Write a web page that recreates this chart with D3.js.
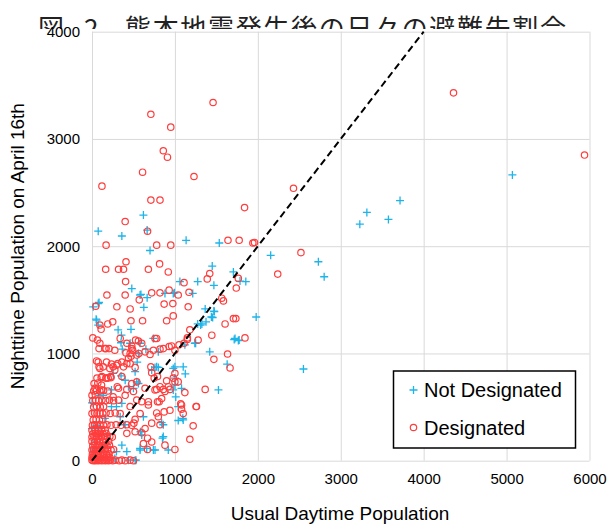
<!DOCTYPE html>
<html><head><meta charset="utf-8">
<script src="https://cdn.jsdelivr.net/npm/d3@7"></script>
<style>body{margin:0;background:#fff}svg{display:block}</style>
</head><body>
<svg id="chart" width="609" height="527"></svg>
<script>
const titleParts = ["図", "2", "熊本地震発生後の日々の避難先割合"];
const xTitle = "Usual Daytime Population";
const yTitle = "Nighttime Population on April 16th";
const seriesNames = ["Not Designated", "Designated"];
const xTicks = [0, 1000, 2000, 3000, 4000, 5000, 6000];
const yTicks = [0, 1000, 2000, 3000, 4000];
const refLine = [[0, 0], [4000, 4000]];

const notDesignated = [
[5070,2665],[3715,2425],[3315,2315],[3575,2250],[3230,2205],[2155,1915],[2730,1855],[2800,1715],[1980,1340],[2550,855],
[620,2290],[75,2140],[360,2095],[665,2150],[700,1960],[1135,2055],[1535,2030],[1450,1815],[1705,1760],[1785,1675],[1855,1670],[1060,1670],[1275,1670],[480,1605],[1470,1635],[995,1565],[590,1550],[665,1520],[1215,1560],[85,1475],[15,1435],[625,1430],[1365,1415],[1470,1395],[1455,1335],[50,1320],[315,1220],[470,1225],[1275,1275],[1325,1275],[1375,1295],[1725,1140],[1765,1120],[350,1100],[365,1040],[740,1140],[650,1040],[800,1015],[1120,1080],[1240,1095],[1420,1015],[1630,900],
[580,1545],[880,1560],[980,1560],[75,1465],[55,1310],[75,1265],[355,1170],[460,1095],[580,1095],[1310,1265],[1440,1340],[1475,1390],[1715,1130],[1775,1125],[1250,1095],
[350,790],[255,815],[545,920],[760,870],[800,870],[1000,875],[1100,875],[1125,810],[1000,705],[1010,595],[500,675],[540,735],[235,660],[0,540],[840,355],[1040,375],[1100,380],[920,100],[760,100],[580,100],[850,210],[585,270],[530,5],
[1525,660],[1080,675],[1095,395],
[95,610],[295,505],[360,535],[340,410],[400,335],[420,85],[295,85],[440,5],[520,5],[580,115],[660,115],[740,100],[600,240],[620,410],[860,335],[860,225],[980,660],[1040,505],[980,860],[1000,770],[780,875],[720,845],[520,830],[560,720],[440,690],[400,750],[560,1000],[135,610],[155,395],[235,505],[0,300],[75,300],[35,175],[155,145],[275,20],[360,145],[20,100],[110,30],[60,330],[190,240]
];

const designated = [
[4360,3430],[5940,2850],[2430,2540],[2520,1940],[2240,1740],[1940,2030],[1960,2035],
[710,3230],[1460,3340],[950,3110],[860,2890],[910,2830],[610,2690],[120,2560],[1230,2650],[710,2430],[820,2430],[1840,2360],[400,2230],[670,2140],
[170,2010],[780,2010],[950,2010],[1640,2055],[1775,2055],
[410,1855],[320,1785],[380,1785],[165,1785],[815,1835],[680,1785],[920,1760],[1420,1745],[1390,1695],[1765,1700],[1110,1660],[405,1670],
[180,1545],[400,1545],[720,1565],[820,1565],[930,1590],[570,1500],[1040,1545],[1565,1515],[1585,1490],[1740,1610],[1170,1570],
[45,1440],[870,1460],[975,1465],[300,1435],[460,1415],[1160,1435],[1705,1325],[1735,1325],[1605,1275],
[110,1225],[190,1275],[250,1295],[95,1265],[470,1305],[610,1305],[900,1305],[980,1350],[1180,1220],[1280,1125],[1445,1170],[1845,1145],[1150,1145],
[10,1145],[65,1125],[85,1045],[170,1045],[205,1045],[95,1095],[340,1140],[420,1095],[480,1070],[525,1125],[560,1115],[600,1095],[760,1140],[780,1140],[700,990],[820,1040],[930,1065],[960,1070],[1000,1030],[1050,1080],[1150,1130],[1110,1095],[1470,945],[1635,995],[1665,865],
[155,1045],[275,1030],[480,1045],[460,1000],[640,1015],[740,1030],[860,1045],
[55,930],[85,875],[135,875],[175,920],[235,900],[255,875],[310,905],[360,920],[380,875],[420,905],[440,955],[120,785],[170,770],[225,785],[275,845],[520,870],[540,985],[470,975],[410,1005],[490,1030],[565,1000],[710,875],[720,820],[750,770],[790,785],[1000,815],[900,745],[820,690],[940,665],[1000,735],[1120,635],[1365,665],[860,665],[780,665],[480,720],[420,665],[305,690],[115,705],
[75,920],[95,860],[215,860],[295,890],[460,905],[360,785],[195,770],[35,675],[115,660],[255,595],[400,610],[500,645],[540,565],[460,505],[580,440],[680,520],[720,350],[640,300],[520,270],[420,255],[620,160],[720,175],[880,145],[880,645],[980,770],[1040,735],[920,690],[800,410],[840,580],[940,470],[760,660],[640,675],[540,735],[320,675],
[680,550],[600,550],[790,550],[810,550],[1070,530],[1080,480],[1100,440],[1260,505],[780,445],[870,455],[1220,325],[1180,200],[1000,105],[670,105],[670,210],[820,335],[600,260],[505,350],[520,385],[1255,505],[1080,520],
[0,5],[15,0],[30,5],[45,0],[60,5],[80,0],[100,5],[120,0],[140,5],[160,0],[180,5],[200,0],[220,5],[250,0],[280,5],[330,0],[360,5],[400,0],[460,5],[500,0],
[0,30],[20,35],[40,30],[70,35],[95,30],[130,35],[160,30],[190,35],[215,30],
[5,60],[25,65],[50,60],[75,65],[105,60],[140,65],[175,60],[205,65],
[0,100],[20,105],[45,100],[70,105],[100,100],[130,105],[160,100],[190,105],[230,100],[260,105],
[10,140],[35,145],[60,140],[90,145],[120,140],[150,145],[180,140],[210,145],
[0,180],[30,175],[65,180],[95,175],[130,180],[165,175],[200,180],
[0,220],[25,225],[55,220],[85,225],[115,220],[150,225],[185,220],[215,225],[245,220],
[10,250],[40,255],[70,250],[100,255],[135,250],[170,255],
[0,285],[35,290],[75,285],[115,290],[160,285],
[5,330],[30,335],[60,330],[95,335],[140,330],[180,335],[230,330],[290,335],[350,330],[420,335],[480,330],
[15,380],[50,385],[90,380],[130,385],
[0,440],[30,445],[60,440],[95,445],[130,440],[170,445],[220,440],[280,445],[340,440],
[20,500],[55,505],[100,500],[140,505],
[10,560],[45,565],[80,560],[120,565],[165,560],[210,565],[260,560],[320,565],
[0,610],[40,615],
[20,650],[55,655],[95,650],[140,655],[190,650],
[25,720],[70,725],
[60,770],[110,775],[170,770],[230,775]
];

const svg = d3.select("#chart");
const x = d3.scaleLinear().domain([0, 6000]).range([92, 589.5]);
const y = d3.scaleLinear().domain([0, 4000]).range([460.7, 31.7]);
const font = "'Liberation Sans', Arial, sans-serif";
const gridColor = "#d9d9d9";

// Title (clipped at top of plot)
svg.append("clipPath").attr("id", "tclip").append("rect")
  .attr("x", 0).attr("y", 0).attr("width", 609).attr("height", 29);
const tg = svg.append("g").attr("clip-path", "url(#tclip)")
  .attr("font-family", "'Noto Sans CJK JP', sans-serif").attr("font-size", 26).attr("fill", "#222");
tg.append("text").attr("x", 38).attr("y", 38).text(titleParts[0]);
tg.append("text").attr("x", 84).attr("y", 38).text(titleParts[1]);
tg.append("text").attr("x", 125).attr("y", 38).attr("textLength", 441).attr("lengthAdjust", "spacing").text(titleParts[2]);

// Grid
const gx = svg.append("g").attr("transform", `translate(0,${y(0)})`)
  .call(d3.axisBottom(x).tickValues(xTicks).tickSize(-(y(0) - y(4000))).tickFormat(d => d).tickPadding(10));
gx.select(".domain").remove();
gx.selectAll(".tick line").attr("stroke", gridColor).attr("stroke-width", 1);
gx.selectAll(".tick text").attr("font-family", font).attr("font-size", 15).attr("fill", "#000").attr("dy", "0.9em");

const gy = svg.append("g").attr("transform", `translate(${x(0)},0)`)
  .call(d3.axisLeft(y).tickValues(yTicks).tickSize(-(x(6000) - x(0))).tickFormat(d => d).tickPadding(12));
gy.select(".domain").remove();
gy.selectAll(".tick line").attr("stroke", gridColor).attr("stroke-width", 1);
gy.selectAll(".tick text").attr("font-family", font).attr("font-size", 15).attr("fill", "#000");

// Axis titles
svg.append("text").attr("x", 340).attr("y", 520).attr("text-anchor", "middle")
  .attr("font-family", font).attr("font-size", 19).text(xTitle);
svg.append("text").attr("transform", `translate(24,${(y(0) + y(4000)) / 2}) rotate(-90)`)
  .attr("text-anchor", "middle").attr("font-family", font).attr("font-size", 19).text(yTitle);

const blue = "#1eb4e8", red = "#ff3d3d";
const plus = (g, cx, cy, s) => g.append("path")
  .attr("d", `M${cx - s},${cy}H${cx + s}M${cx},${cy - s}V${cy + s}`)
  .attr("stroke", blue).attr("stroke-width", 1.3).attr("fill", "none");

// Not designated
svg.append("g").selectAll("path").data(notDesignated).join("path")
  .attr("d", d => `M${x(d[0]) - 4},${y(d[1])}H${x(d[0]) + 4}M${x(d[0])},${y(d[1]) - 4}V${y(d[1]) + 4}`)
  .attr("stroke", blue).attr("stroke-width", 1.3).attr("fill", "none");

// Designated
svg.append("g").selectAll("circle").data(designated).join("circle")
  .attr("cx", d => x(d[0])).attr("cy", d => y(d[1])).attr("r", 3.2)
  .attr("fill", "none").attr("stroke", red).attr("stroke-width", 1.2);

// Reference line y = x
svg.append("path").datum(refLine)
  .attr("d", d3.line().x(d => x(d[0])).y(d => y(d[1])))
  .attr("stroke", "#000").attr("stroke-width", 2).attr("stroke-dasharray", "7,4").attr("fill", "none");

// Legend
const lg = svg.append("g");
lg.append("rect").attr("x", 393.5).attr("y", 371).attr("width", 182).attr("height", 77)
  .attr("fill", "#fff").attr("stroke", "#000").attr("stroke-width", 1.5);
plus(lg, 413.5, 390, 4);
lg.append("circle").attr("cx", 413.5).attr("cy", 427.5).attr("r", 3.2)
  .attr("fill", "none").attr("stroke", red).attr("stroke-width", 1.2);
lg.append("text").attr("x", 424).attr("y", 397).attr("font-family", font).attr("font-size", 20).text(seriesNames[0]);
lg.append("text").attr("x", 424).attr("y", 434.5).attr("font-family", font).attr("font-size", 20).text(seriesNames[1]);
</script>
</body></html>
